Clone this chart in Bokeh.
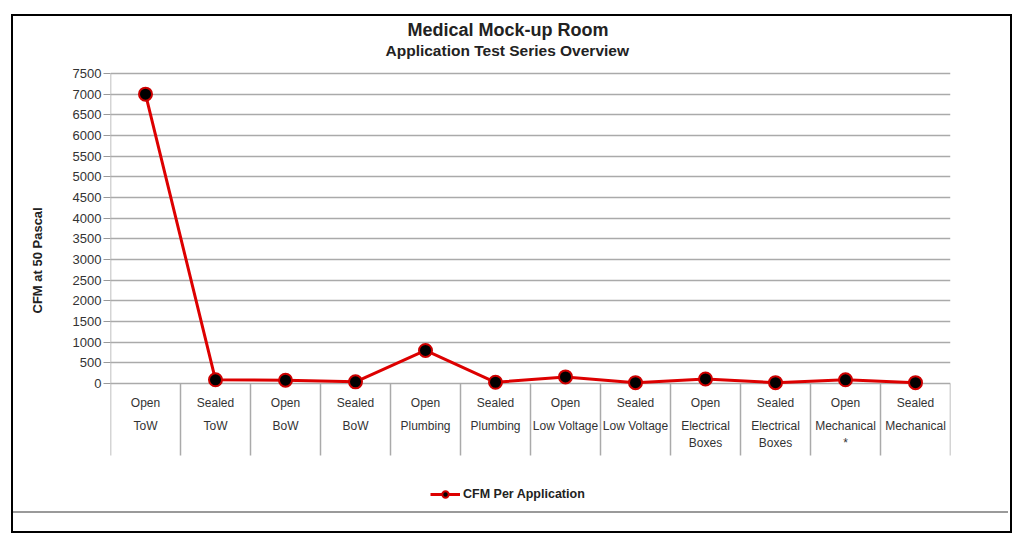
from bokeh.plotting import figure
from bokeh.models import (FactorRange, Range1d, FixedTicker, Legend, LegendItem,
                          Title, InlineStyleSheet)
from bokeh.core.properties import value
from bokeh.embed import file_html
from bokeh.resources import INLINE

# ---- data ----
categories = ["Open ToW", "Sealed ToW", "Open BoW", "Sealed BoW",
              "Open Plumbing", "Sealed Plumbing", "Open Low Voltage",
              "Sealed Low Voltage", "Open Electrical Boxes",
              "Sealed Electrical Boxes", "Open Mechanical", "Sealed Mechanical"]
cfm = [7000, 90, 80, 40, 800, 30, 160, 20, 110, 20, 90, 20]
label_top = ["Open", "Sealed", "Open", "Sealed", "Open", "Sealed",
             "Open", "Sealed", "Open", "Sealed", "Open", "Sealed"]
label_bottom = ["ToW", "ToW", "BoW", "BoW", "Plumbing", "Plumbing",
                "Low Voltage", "Low Voltage", "Electrical\nBoxes",
                "Electrical\nBoxes", "Mechanical\n*", "Mechanical"]
y_ticks = list(range(0, 7501, 500))
series_name = "CFM Per Application"
y_title = "CFM at 50 Pascal"
title_main = "Medical Mock-up Room"
title_sub = "Application Test Series Overview"

FONT = "Liberation Sans"
W, H = 1018, 535
PX_PER_UNIT = 310 / 7500          # vertical scale of the plot
FRAME_TOP, FRAME_BOTTOM = 58, 510
TOP_TICK_Y = 73                   # pixel row of the highest gridline
SEP_DEPTH_PX = 72                 # how far the category boxes reach below 0

y_top_tick = y_ticks[-1]
y_end = y_top_tick + (TOP_TICK_Y - FRAME_TOP) / PX_PER_UNIT
y_start = y_top_tick - (FRAME_BOTTOM - TOP_TICK_Y) / PX_PER_UNIT
sep_bottom = -SEP_DEPTH_PX / PX_PER_UNIT

css = """
:host::after { content: ""; position: absolute; left: 11px; top: 14px;
  width: 1001px; height: 519px; border: 2.5px solid #000; box-sizing: border-box;
  pointer-events: none; z-index: 20; }
:host::before { content: ""; position: absolute; left: 13px; top: 511px;
  width: 995px; height: 2px; background: #9a9a9a; pointer-events: none; z-index: 20; }
"""

p = figure(width=W, height=H,
           x_range=FactorRange(*categories, range_padding=0),
           y_range=Range1d(y_start, y_end),
           output_backend="svg", toolbar_location=None,
           min_border_left=110, min_border_right=68,
           min_border_top=FRAME_TOP, min_border_bottom=H - FRAME_BOTTOM,
           outline_line_color=None,
           background_fill_color="white", border_fill_color="white",
           stylesheets=[InlineStyleSheet(css=css)])

p.xaxis.visible = False
p.xgrid.visible = False

yax = p.yaxis[0]
yax.ticker = FixedTicker(ticks=y_ticks)
yax.major_label_text_font = FONT
yax.major_label_text_font_size = "13px"
yax.major_label_text_color = "#333333"
yax.major_tick_out = 7
yax.major_tick_in = 0
yax.minor_tick_out = 0
yax.minor_tick_in = 0
yax.major_tick_line_color = "#999999"
yax.axis_line_color = None
yax.major_label_standoff = 2

p.ygrid.grid_line_color = "#aaaaaa"
p.ygrid.grid_line_width = 1.5

# axis line + category separators (boxes below the zero line)
sep_x = [(c, -0.5) for c in categories] + [(categories[-1], 0.5)]
sep_top = [y_top_tick] + [0] * len(categories)
p.segment(x0=sep_x, y0=sep_top, x1=sep_x, y1=sep_bottom,
          line_color="#aaaaaa", line_width=1.5)

# category labels
p.text(x=categories, y=[0] * len(categories), text=label_top,
       text_font=value(FONT), text_font_size="12px", text_color="#333333",
       text_align="center", text_baseline="middle", y_offset=19)
p.text(x=categories, y=[0] * len(categories), text=label_bottom,
       text_font=value(FONT), text_font_size="12px", text_color="#333333",
       text_align="center", text_baseline="top", y_offset=35,
       text_line_height=1.25)

# series
line_r = p.line(categories, cfm, line_color="#dd0000", line_width=3)
pts_r = p.scatter(categories, cfm, size=13, fill_color="black",
                  line_color="#cc0000", line_width=2)

legend = Legend(items=[LegendItem(label=series_name, renderers=[line_r, pts_r])],
                location=(320, 8), orientation="horizontal",
                label_text_font=FONT, label_text_font_size="12.5px",
                label_text_font_style="bold", label_text_color="#222222",
                border_line_color=None, background_fill_alpha=0,
                glyph_width=30, glyph_height=16, label_standoff=3, padding=5)
p.add_layout(legend)

# titles
p.add_layout(Title(text=title_sub, align="left", text_font=FONT,
                   text_font_size="15.5px", text_font_style="bold",
                   text_color="#222222", offset=275, standoff=0), "above")
p.add_layout(Title(text=title_main, align="left", text_font=FONT,
                   text_font_size="18px", text_font_style="bold",
                   text_color="#222222", offset=297, standoff=0), "above")
p.add_layout(Title(text=y_title, align="left", text_font=FONT,
                   text_font_size="13px", text_font_style="bold",
                   text_color="#222222", offset=197, standoff=50), "left")

open("out.html", "w").write(file_html(p, INLINE))
